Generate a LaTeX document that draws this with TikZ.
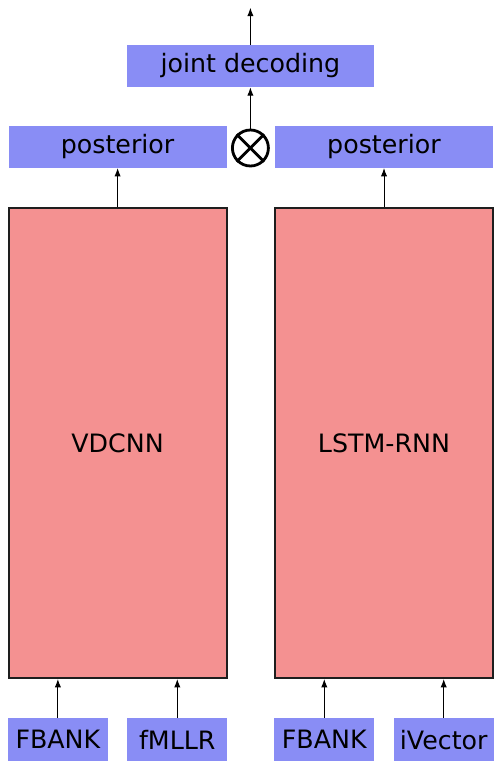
\documentclass[tikz,border=0pt]{standalone}
\usepackage{fontspec}
\setmainfont{DejaVu Sans}
\usetikzlibrary{arrows.meta, positioning}
\definecolor{featblue}{RGB}{137,141,245}
\definecolor{netred}{RGB}{244,145,145}
\definecolor{edgegray}{RGB}{30,30,30}

\begin{document}
\begin{tikzpicture}[
    node distance=0.975cm,
    feat/.style={rectangle, fill=featblue, inner sep=0pt,
        minimum width=2.5cm, minimum height=1.075cm,
        font=\fontsize{18}{20}\selectfont},
    post/.style={feat, minimum width=5.45cm, minimum height=1.05cm},
    net/.style={rectangle, draw=edgegray, line width=1.4pt, fill=netred,
        minimum width=5.45cm, minimum height=11.75cm, inner sep=0pt,
        font=\fontsize{18}{20}\selectfont},
    arr/.style={-{Latex[length=6pt, width=4.5pt]}, line width=0.7pt, black}
]
\useasboundingbox (0,0) rectangle (12.55,-19.225);

% the two networks
\node[net] (vdcnn) at (2.94,-11.075) {VDCNN};
\node[net] (lstm) at (9.6,-11.075) {LSTM-RNN};

% outputs
\node[post, above=of vdcnn] (postl) {posterior};
\node[post, above=of lstm] (postr) {posterior};
\node[circle, draw, line width=2pt, minimum size=0.9cm, inner sep=0pt] (comb) at (6.26,-3.7) {};
\draw[line width=2pt] (comb.north west) -- (comb.south east);
\draw[line width=2pt] (comb.north east) -- (comb.south west);
\node[feat, minimum width=6.175cm, minimum height=1.05cm] (joint) at (6.26,-1.65) {joint decoding};
\coordinate[above=0.925cm of joint] (out);

% input features
\node[feat, below=of vdcnn.south west, anchor=north west] (fbankl) {FBANK};
\node[feat, below=of vdcnn.south east, anchor=north east] (fmllr) {fMLLR};
\node[feat, below=of lstm.south west, anchor=north west] (fbankr) {FBANK};
\node[feat, below=of lstm.south east, anchor=north east] (ivec) {iVector};

\draw[arr] (fbankl) -- (fbankl |- vdcnn.south);
\draw[arr] (fmllr) -- (fmllr |- vdcnn.south);
\draw[arr] (fbankr) -- (fbankr |- lstm.south);
\draw[arr] (ivec) -- (ivec |- lstm.south);
\draw[arr] (vdcnn) -- (postl);
\draw[arr] (lstm) -- (postr);
\draw[arr] (comb) -- (joint);
\draw[arr] (joint) -- (out);
\end{tikzpicture}
\end{document}
